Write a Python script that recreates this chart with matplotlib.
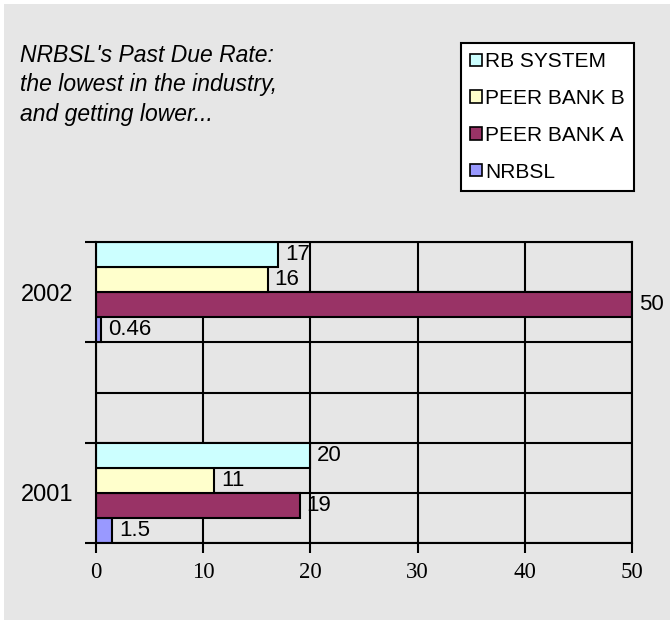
import matplotlib
matplotlib.use('Agg')
import matplotlib.pyplot as plt
from matplotlib.patches import Rectangle

# data
years = ['2001', '2002']
nrbsl = [1.5, 0.46]
peer_bank_a = [19, 50]
peer_bank_b = [11, 16]
rb_system = [20, 17]

# series in drawing order (bottom bar of each group first)
series = [
    ('NRBSL', nrbsl, '#9999ff'),
    ('PEER BANK A', peer_bank_a, '#993366'),
    ('PEER BANK B', peer_bank_b, '#ffffcc'),
    ('RB SYSTEM', rb_system, '#ccffff'),
]

plt.rcParams['font.family'] = ['Liberation Sans', 'DejaVu Sans']

W, H = 670, 620
fig = plt.figure(figsize=(W / 100, H / 100), dpi=100, facecolor='white')
bg = '#e6e6e6'
fig.add_artist(Rectangle((4 / W, 0), 1, 1 - 4 / H, transform=fig.transFigure,
                         facecolor=bg, edgecolor='none', zorder=-10))

ax = fig.add_axes([96 / W, 77 / H, 536 / W, 301 / H])
ax.set_facecolor('none')

bar_h = 0.5
group_gap = 4  # each category takes 4 bar slots + 2 empty ones
centers = [1 + group_gap * i for i in range(len(years))]
for j, (name, vals, col) in enumerate(series):
    ys = [c + (j - 1.5) * bar_h for c in centers]
    bars = ax.barh(ys, vals, height=bar_h, color=col, edgecolor='black',
                   linewidth=1.5, label=name, zorder=3)
    ax.bar_label(bars, fmt='%g', padding=5, fontsize=16, zorder=4)

ax.set_xlim(0, 50)
ax.set_ylim(0, 6)
ax.set_xticks(range(0, 51, 10))
ax.set_xticklabels([str(v) for v in range(0, 51, 10)], family='Liberation Serif',
                   fontsize=16.5)
ax.set_yticks([0, 2, 4, 6])
ax.set_yticklabels([])
ax.set_yticks([1, 3, 5], minor=True)
ax.set_yticklabels([years[0], '', years[1]], minor=True, fontsize=17)
ax.tick_params(axis='y', which='major', length=8, width=1.5, direction='out')
ax.tick_params(axis='y', which='minor', length=0, pad=16)
ax.tick_params(axis='x', length=7, width=1.5, direction='out', pad=7)
ax.grid(True, which='both', color='black', linewidth=1.5, zorder=1)
ax.set_axisbelow(True)
for sp in ax.spines.values():
    sp.set_linewidth(1.5)
    sp.set_zorder(5)

handles, labels = ax.get_legend_handles_labels()
leg = ax.legend(handles[::-1], labels[::-1], loc='upper left',
                bbox_to_anchor=(461 / W, 1 - 43 / H), bbox_transform=fig.transFigure,
                borderaxespad=0, fontsize=15, frameon=True, fancybox=False,
                framealpha=1, edgecolor='black', handlelength=0.55,
                handleheight=0.55, handletextpad=0.15, labelspacing=0.85,
                borderpad=0.45)
leg.get_frame().set_linewidth(1.5)
for p in leg.get_patches():
    p.set_linewidth(1.2)

fig.text(20 / W, 1 - 44 / H,
         "NRBSL's Past Due Rate:\nthe lowest in the industry,\nand getting lower...",
         style='italic', fontsize=16.5, ha='left', va='top', linespacing=1.36)

fig.savefig('out.png', dpi=100)
